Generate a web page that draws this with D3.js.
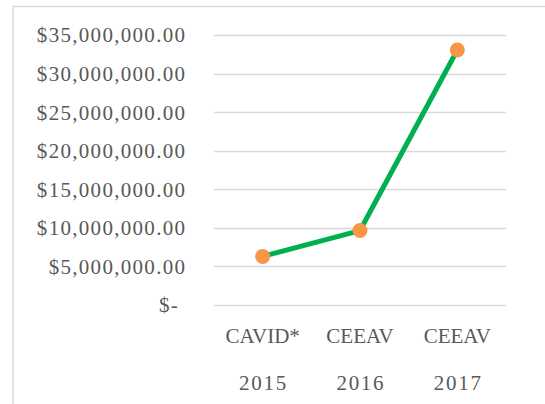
<!DOCTYPE html>
<html>
<head>
<meta charset="utf-8">
<script src="https://cdn.jsdelivr.net/npm/d3@7"></script>
<style>
  html, body { margin: 0; padding: 0; background: #fff; }
  svg { display: block; }
  text { font-family: "Liberation Serif", "DejaVu Serif", serif; fill: #595959; }
</style>
</head>
<body>
<script>
const categories = ["CAVID*", "CEEAV", "CEEAV"];
const years = ["2015", "2016", "2017"];
const values = [6300000, 9650000, 33050000];
const yTicks = [0, 5000000, 10000000, 15000000, 20000000, 25000000, 30000000, 35000000];

const W = 545, H = 404;
const svg = d3.select("body").append("svg").attr("width", W).attr("height", H);

// chart border
svg.append("rect")
  .attr("x", 13).attr("y", 6.5)
  .attr("width", W + 20).attr("height", H + 20)
  .attr("fill", "none").attr("stroke", "#d9d9d9").attr("stroke-width", 1.5);

const plot = { left: 214, right: 506, top: 35, bottom: 305 };

const x = d3.scaleBand().domain(d3.range(categories.length))
  .range([plot.left, plot.right]).paddingInner(0).paddingOuter(0);
const y = d3.scaleLinear().domain([0, 35000000]).range([plot.bottom, plot.top]);

const fmt = v => v === 0 ? "$-" : "$" + d3.format(",.2f")(v);

// gridlines
svg.append("g").selectAll("line").data(yTicks).join("line")
  .attr("x1", plot.left).attr("x2", plot.right)
  .attr("y1", d => Math.round(y(d)) + 0.5).attr("y2", d => Math.round(y(d)) + 0.5)
  .attr("stroke", "#d9d9d9").attr("stroke-width", 1.5);

// y axis labels
const yAxis = d3.axisLeft(y).tickValues(yTicks).tickFormat(fmt).tickSize(0).tickPadding(0);
const gy = svg.append("g").attr("transform", `translate(185,0)`).call(yAxis);
gy.select(".domain").remove();
gy.selectAll("text")
  .attr("font-size", 21).attr("font-family", "Liberation Serif, serif").attr("fill", "#595959")
  .attr("letter-spacing", 1.3)
  .attr("dy", "0.33em")
  .attr("dx", d => d === 0 ? -6 : 1.3);

// x axis labels (two rows)
const xAxis1 = d3.axisBottom(x).tickFormat(i => categories[i]).tickSize(0).tickPadding(0);
const gx1 = svg.append("g").attr("transform", `translate(0,336)`).call(xAxis1);
gx1.select(".domain").remove();
gx1.selectAll("text").attr("font-size", 21).attr("font-family", "Liberation Serif, serif")
  .attr("fill", "#595959").attr("dy", "0.33em");

const xAxis2 = d3.axisBottom(x).tickFormat(i => years[i]).tickSize(0).tickPadding(0);
const gx2 = svg.append("g").attr("transform", `translate(0,383)`).call(xAxis2);
gx2.select(".domain").remove();
gx2.selectAll("text").attr("font-size", 21).attr("font-family", "Liberation Serif, serif")
  .attr("fill", "#595959").attr("letter-spacing", 1.7).attr("dx", 0.85).attr("dy", "0.33em");

// line
const cx = i => x(i) + x.bandwidth() / 2;
const line = d3.line().x((d, i) => cx(i)).y(d => y(d));
svg.append("path").datum(values)
  .attr("d", line).attr("fill", "none")
  .attr("stroke", "#00b050").attr("stroke-width", 5)
  .attr("stroke-linejoin", "round").attr("stroke-linecap", "round");

// markers
svg.append("g").selectAll("circle").data(values).join("circle")
  .attr("cx", (d, i) => cx(i)).attr("cy", d => y(d)).attr("r", 7.5)
  .attr("fill", "#f79646");
</script>
</body>
</html>
